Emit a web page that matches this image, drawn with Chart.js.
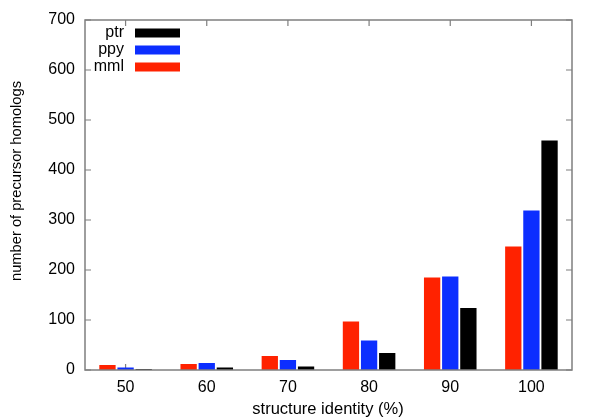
<!DOCTYPE html>
<html>
<head>
<meta charset="utf-8">
<script src="https://cdn.jsdelivr.net/npm/chart.js@4/dist/chart.umd.min.js"></script>
<style>
  html, body { margin: 0; padding: 0; background: #fff; }
  #wrap { width: 600px; height: 420px; }
</style>
</head>
<body>
<div id="wrap"><canvas id="identityChart" width="600" height="420"></canvas></div>
<script>
// categories and values
const identity = ['50', '60', '70', '80', '90', '100'];
const mmlCounts = [10, 12, 28, 97, 185, 247];
const ppyCounts = [5, 14, 20, 59, 187, 319];
const ptrCounts = [2, 5, 7, 34, 124, 459];
const yTicks = [0, 100, 200, 300, 400, 500, 600, 700];

const FONT = 'Liberation Sans, Arial, Helvetica, sans-serif';
const AXIS_GREY = '#7f7f7f';

// gnuplot-like frame: full box, inward ticks on all four sides, legend top-left
const framePlugin = {
    id: 'frame',
    beforeDatasetsDraw(chart) {
        // ticks sit behind the bars
        const ctx = chart.ctx;
        const a = chart.chartArea;
        const xs = chart.scales.x;
        const ys = chart.scales.y;
        ctx.save();
        ctx.strokeStyle = AXIS_GREY;
        ctx.lineWidth = 1.2;
        ctx.beginPath();
        ys.ticks.forEach((t, i) => {
            const y = ys.getPixelForTick(i);
            ctx.moveTo(a.left, y); ctx.lineTo(a.left + 6, y);
            ctx.moveTo(a.right, y); ctx.lineTo(a.right - 6, y);
        });
        xs.ticks.forEach((t, i) => {
            const x = xs.getPixelForTick(i);
            ctx.moveTo(x, a.bottom); ctx.lineTo(x, a.bottom - 6);
            ctx.moveTo(x, a.top); ctx.lineTo(x, a.top + 6);
        });
        ctx.stroke();
        ctx.restore();
    },
    afterDatasetsDraw(chart) {
        const ctx = chart.ctx;
        const a = chart.chartArea;
        ctx.save();
        ctx.strokeStyle = AXIS_GREY;
        ctx.lineWidth = 1.5;
        ctx.strokeRect(a.left, a.top, a.right - a.left, a.bottom - a.top);

        // axis titles
        ctx.fillStyle = '#000';
        ctx.textAlign = 'center';
        ctx.textBaseline = 'middle';
        ctx.font = '16.5px ' + FONT;
        ctx.fillText('structure identity (%)', 328, 409);
        ctx.save();
        ctx.translate(17, 181);
        ctx.rotate(-Math.PI / 2);
        ctx.font = '14.7px ' + FONT;
        ctx.fillText('number of precursor homologs', 0, 0);
        ctx.restore();

        // legend, reversed order, label then swatch
        const sets = chart.data.datasets.slice().reverse();
        ctx.font = '16px ' + FONT;
        ctx.textAlign = 'right';
        sets.forEach((ds, i) => {
            const y = a.top + 13 + i * 17;
            ctx.fillStyle = '#000';
            ctx.fillText(ds.label, a.left + 39, y);
            ctx.fillStyle = ds.backgroundColor;
            ctx.fillRect(a.left + 50, y - 4.5, 45, 9);
        });
        ctx.restore();
    }
};

new Chart(document.getElementById('identityChart'), {
    type: 'bar',
    data: {
        labels: identity,
        datasets: [
            { label: 'mml', data: mmlCounts, backgroundColor: '#ff2200' },
            { label: 'ppy', data: ppyCounts, backgroundColor: '#0c2eff' },
            { label: 'ptr', data: ptrCounts, backgroundColor: '#000000' }
        ]
    },
    options: {
        responsive: false,
        animation: false,
        devicePixelRatio: 1,
        categoryPercentage: 0.67,
        barPercentage: 0.9,
        layout: { padding: { top: 20, right: 28, left: 0, bottom: 0 } },
        scales: {
            x: {
                grid: { display: false, drawTicks: false },
                border: { display: false },
                ticks: { color: '#000', font: { family: FONT, size: 16 }, padding: 8 },
                afterFit(scale) { scale.height = 50; }
            },
            y: {
                min: 0,
                max: 700,
                afterBuildTicks(scale) { scale.ticks = yTicks.map(v => ({ value: v })); },
                grid: { display: false, drawTicks: false },
                border: { display: false },
                ticks: { color: '#000', font: { family: FONT, size: 16 }, padding: 10 },
                afterFit(scale) { scale.width = 85; }
            }
        },
        plugins: {
            legend: { display: false },
            tooltip: { enabled: false }
        }
    },
    plugins: [framePlugin]
});
</script>
</body>
</html>
